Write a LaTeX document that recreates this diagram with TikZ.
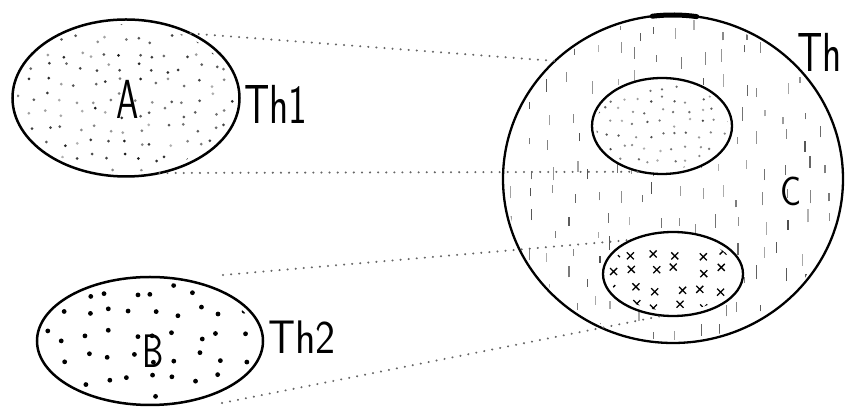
\documentclass[tikz,border=0pt]{standalone}
\usepackage{fontspec}
\usetikzlibrary{shapes.geometric}
\tikzset{
  blob/.style={ellipse, draw, line width=2.5pt, inner sep=0pt, outer sep=0pt},
  lab/.style={inner sep=0pt, outer sep=0pt},
  link/.style={draw=black!60, line width=2.2pt, dash pattern=on 0.1pt off 8pt, line cap=round},
  bigfont/.style={font={\sffamily\addfontfeatures{FakeBold=1.3}\fontsize{55}{60}\selectfont}},
  midfont/.style={font={\sffamily\addfontfeatures{FakeBold=1.3}\fontsize{47}{52}\selectfont}},
}
\begin{document}
\begin{tikzpicture}[x=1pt,y=1pt]
\useasboundingbox (0,0) rectangle (845,411);
\fill[white] (0,0) rectangle (845,411);
\pgfmathsetseed{7}
% --- pattern of C: short vertical dashes
\begin{scope}
  \clip (673,232) ellipse [x radius=167, y radius=161];
  \foreach \x in {510,531,...,840}{
    \foreach \y in {70,98,...,400}{
      \pgfmathsetmacro\dx{rand*7}
      \pgfmathsetmacro\dy{rand*9}
      \pgfmathsetmacro\len{6+rnd*8}
      \pgfmathtruncatemacro\g{30+rnd*40}
      \draw[black!\g, line width=1.2pt] ({\x+\dx},{\y+\dy}) -- ++(0,\len);
    }
  }
\end{scope}
% --- inner ellipse 1: fine dots
\fill[white] (662,285) ellipse [x radius=70, y radius=48];
\begin{scope}
  \clip (662,285) ellipse [x radius=66, y radius=44];
  \foreach \x in {596,609,...,730}{
    \foreach \y in {240,252,...,332}{
      \pgfmathsetmacro\dx{rand*4}
      \pgfmathsetmacro\dy{rand*4}
      \pgfmathtruncatemacro\g{30+rnd*45}
      \fill[black!\g] ({\x+\dx},{\y+\dy}) circle (1.3);
    }
  }
\end{scope}
% --- inner ellipse 2: crosses
\fill[white] (673,137) ellipse [x radius=70, y radius=42];
\begin{scope}
  \clip (673,137) ellipse [x radius=64, y radius=37];
  \foreach \x in {612,634,...,740}{
    \foreach \y in {104,122,...,175}{
      \pgfmathsetmacro\dx{rand*5}
      \pgfmathsetmacro\dy{rand*4}
      \draw[black, line width=1.3pt] ({\x+\dx},{\y+\dy}) +(-3.5,-3.5) -- +(3.5,3.5) +(-3.5,3.5) -- +(3.5,-3.5);
    }
  }
\end{scope}
% --- A: fine dots
\begin{scope}
  \clip (126,313) ellipse [x radius=109, y radius=74];
  \foreach \x in {18,33,...,240}{
    \foreach \y in {238,253,...,392}{
      \pgfmathsetmacro\dx{rand*5}
      \pgfmathsetmacro\dy{rand*5}
      \pgfmathtruncatemacro\g{30+rnd*60}
      \fill[black!\g] ({\x+\dx},{\y+\dy}) circle (1.5);
    }
  }
\end{scope}
% --- B: coarse dots
\begin{scope}
  \clip (150,70) ellipse [x radius=108, y radius=59];
  \foreach \x in {44,66,...,262}{
    \foreach \y in {10,32,...,135}{
      \pgfmathsetmacro\dx{rand*6}
      \pgfmathsetmacro\dy{rand*6}
      \fill[black] ({\x+\dx},{\y+\dy}) circle (2.4);
    }
  }
\end{scope}
% --- outlines
\node[blob, minimum width=227pt, minimum height=157pt] (A) at (126,313) {};
\node[blob, minimum width=226pt, minimum height=128pt] (B) at (150,70) {};
\node[blob, line width=2.3pt, minimum width=340pt, minimum height=328pt] (C) at (673,232) {};
\node[blob, line width=2.3pt, minimum width=140pt, minimum height=96pt] (E1) at (662,285) {};
\node[blob, line width=2.3pt, minimum width=140pt, minimum height=84pt] (E2) at (673,137) {};
\draw[line width=5pt, line cap=round] (673,232) ++(97:170 and 164) arc [start angle=97, end angle=82, x radius=170, y radius=164];
% --- labels
\node[lab, bigfont] (labA) at (128,312) {\scalebox{0.65}[1]{A}};
\node[lab, bigfont, anchor=west] (labTh1) at (244,307) {\scalebox{0.72}[1]{Th1}};
\node[lab, midfont] (labB) at (153,60) {\scalebox{0.72}[1]{B}};
\node[lab, midfont, anchor=west] (labTh2) at (268,74) {\scalebox{0.9}[1]{Th2}};
\node[lab, font={\sffamily\addfontfeatures{FakeBold=1.3}\fontsize{41}{46}\selectfont}] (labC) at (791,220) {\scalebox{0.85}[1]{C}};
\node[lab, bigfont, anchor=west] (labTh) at (797,359) {\scalebox{0.72}[1]{Th}};
% --- dotted projection lines
\coordinate (s3) at (223,136);
\coordinate (s4) at (222,8);
\draw[link] (A.45) -- (C.135);
\draw[link] (A.-66) -- (E1.-115);
\draw[link] (s3) -- (E2.140);
\draw[link] (s4) -- (E2.-103);
\end{tikzpicture}
\end{document}
